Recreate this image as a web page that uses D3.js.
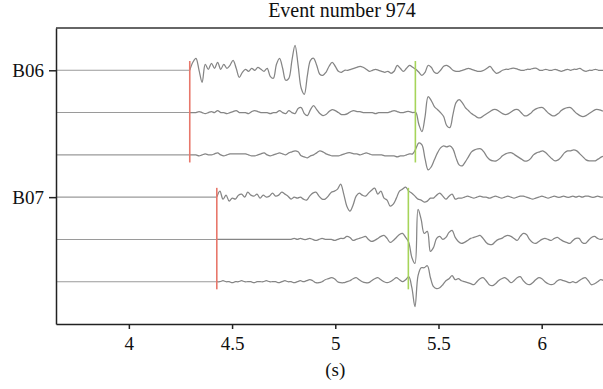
<!DOCTYPE html>
<html>
<head>
<meta charset="utf-8">
<script src="https://cdn.jsdelivr.net/npm/d3@7"></script>
<style>
  body { margin: 0; background: #fff; }
  text { font-family: "Liberation Serif", "Times New Roman", serif; fill: #111; }
</style>
</head>
<body>
<svg id="chart" width="603" height="389"></svg>
<script>
var stations = ["B06", "B07"];
var traceStation = [0, 0, 0, 1, 1, 1];
var onsets = [4.295, 4.295, 4.295, 4.426, 4.426, 4.426];
var pPicks = [4.295, 4.426];
var sPicks = [5.388, 5.354];
var dt = 0.015;
var xTicks = [4, 4.5, 5, 5.5, 6];

var trace1 = [0,8,12,0,-12,6,1,7,2,8,1,6,2,5,10,2,-7,-2,1,-1,2,0,3,1,-1,2,-6,-8,6,12,2,-10,-8,10,25,5,-18,-24,-5,10,12,5,-4,-5,-2,4,8,4,-1,-2,0,0,1,2,3,4,3,1,-1,0,1,0,-1,-2,-1,-3,-1,5,2,-1,2,5,3,1,-2,-5,-2,5,3,-2,-3,0,4,5,3,0,-1,-1,0,1,2,1,0,-1,-1,0,2,4,0,-3,-2,0,1,1,2,2,1,0,0,1,1,2,2,0,0,1,0,0,1,0,-1,0,1,0,1,1,2,0,-1,0,0,1,0,0,0];
var trace2 = [0,0,0,1,0,-1,0,1,0,2,0,0,-1,0,1,2,0,0,0,-1,1,2,1,0,0,0,-1,0,0,2,0,-1,2,0,-1,4,5,-1,-3,3,7,3,-1,-3,-2,1,3,2,0,-2,-2,-1,1,2,1,1,0,0,0,0,-1,0,0,0,0,1,2,1,0,0,1,1,0,0,-12,-19,-4,16,12,6,3,0,-4,-13,-15,-2,10,13,10,5,2,-1,-3,-5,-5,-3,-1,1,3,3,1,-1,-2,-1,1,3,3,0,-3,-3,-1,2,4,5,5,2,-1,-3,-3,-1,2,4,5,5,2,-1,-3,-4,-3,-1,1,3,3,2,1];
var trace3 = [0,0,0,-1,0,1,0,0,1,2,0,-1,0,1,1,1,1,1,1,0,-1,-1,0,1,2,0,-1,0,1,2,1,0,2,3,4,3,-1,-2,-3,-1,0,2,4,3,1,0,-1,-1,-1,0,1,2,2,1,1,0,1,2,1,0,0,0,0,-1,-1,-1,-1,-2,-1,-1,0,1,1,6,12,10,-4,-15,-12,-5,2,7,9,8,9,6,-3,-10,-11,-7,-2,3,5,6,6,3,-2,-5,-6,-6,-4,-1,1,2,2,0,-2,-4,-6,-6,-4,0,2,3,4,2,-1,-4,-6,-5,-2,2,4,4,5,4,1,-2,-5,-6,-6,-6,-4,-2,-1];
var trace4 = [0,6,-2,2,-4,-1,-2,2,3,0,5,2,1,3,-1,2,0,1,4,1,2,5,3,1,-2,0,-1,0,-2,-3,1,4,5,1,-2,-2,1,5,6,8,13,3,-9,-14,-8,1,4,2,1,4,7,9,3,6,-1,-3,-9,-7,-1,6,8,10,6,4,1,-2,-3,-5,-4,-1,-1,2,4,1,-2,1,3,-2,-1,-1,0,1,0,-1,0,1,0,0,-1,0,1,0,-1,0,1,0,-1,0,1,1,0,-1,-2,-1,0,1,0,-1,0,1,0,0,1,0,0,1,0,1,0,1,1,0,0,1,0,0];
var trace5 = [0,0,0,0,0,0,0,0,0,0,0,0,0,0,0,0,0,0,0,0,0,0,0,0,0,1,0,1,0,0,1,0,-1,0,1,0,0,0,-1,0,1,1,3,2,-1,0,1,2,3,0,-2,-1,1,3,4,1,-3,-1,2,5,6,2,-3,-18,-24,30,20,6,8,-12,-8,1,3,0,2,7,9,2,-2,-4,-3,-1,1,2,3,4,1,-3,-5,-5,-2,0,1,3,4,3,1,-1,3,6,5,0,-3,-4,-2,0,1,0,-1,1,2,0,-2,-3,-4,-1,1,1,-3,-4,-1,2,3,1,0,1];
var trace6 = [0,0,1,0,0,-1,0,0,1,0,0,0,-1,0,0,0,1,0,0,0,-1,0,1,0,0,-1,0,1,0,1,2,1,-1,-1,0,2,3,4,3,0,-1,-1,0,1,3,4,2,0,-1,-1,1,3,4,2,0,-1,0,2,4,2,0,2,5,-6,-25,6,14,14,16,4,-5,-7,-6,-3,1,3,6,2,3,1,0,-1,-2,-3,0,3,4,1,-3,-4,-2,1,3,4,2,-1,1,4,5,1,-2,-3,-1,2,4,3,0,-2,-3,-2,1,2,1,0,-1,0,-1,1,3,4,1,-3,-2,0,2,1];

var traces = [trace1, trace2, trace3, trace4, trace5, trace6];

var svg = d3.select("#chart");
var margin = {top: 28, right: 0, bottom: 65, left: 56};
var width = +svg.attr("width") - margin.left - margin.right;
var height = +svg.attr("height") - margin.top - margin.bottom;

var x = d3.scaleLinear().domain([3.647, 6.297]).range([0, width]);
var y = d3.scaleLinear().domain([-1, 6]).range([0, height]);
var amp = d3.scaleLinear().domain([-10, 10]).range([10, -10]);

var g = svg.append("g").attr("transform", "translate(" + margin.left + "," + margin.top + ")");

svg.append("defs").append("clipPath").attr("id", "clip")
  .append("rect").attr("width", width).attr("height", height);

var plot = g.append("g").attr("clip-path", "url(#clip)");

// flat pre-event lines
plot.selectAll(".pre")
  .data(traces)
  .enter().append("line")
    .attr("class", "pre")
    .attr("x1", x(x.domain()[0]))
    .attr("x2", (d, i) => x(onsets[i]))
    .attr("y1", (d, i) => y(i))
    .attr("y2", (d, i) => y(i))
    .attr("stroke", "#9a9a9a")
    .attr("stroke-width", 1.1);

plot.selectAll(".trace")
  .data(traces)
  .enter().append("path")
    .attr("class", "trace")
    .attr("fill", "none")
    .attr("stroke", "#858585")
    .attr("stroke-width", 1.25)
    .attr("stroke-linejoin", "round")
    .attr("d", (d, i) => d3.line()
      .curve(d3.curveCatmullRom.alpha(0.5))
      .x((v, j) => x(onsets[i] + j * dt))
      .y(v => y(i) + amp(v))(d));

// picks
var picks = [];
stations.forEach((s, k) => {
  var rows = traceStation.map((st, i) => st === k ? i : null).filter(i => i !== null);
  picks.push({t: pPicks[k], y0: d3.min(rows) - 0.22, y1: d3.max(rows) + 0.18, color: "#e8776b"});
  picks.push({t: sPicks[k], y0: d3.min(rows) - 0.22, y1: d3.max(rows) + 0.18, color: "#a6d45a"});
});

plot.selectAll(".pick")
  .data(picks)
  .enter().append("line")
    .attr("class", "pick")
    .attr("x1", d => x(d.t))
    .attr("x2", d => x(d.t))
    .attr("y1", d => y(d.y0))
    .attr("y2", d => y(d.y1))
    .attr("stroke", d => d.color)
    .attr("stroke-width", 1.6);

// frame
g.append("line")
  .attr("x1", 0).attr("x2", width)
  .attr("y1", 0).attr("y2", 0)
  .attr("stroke", "#333").attr("stroke-width", 1.5);

var xAxis = g.append("g")
  .attr("transform", "translate(0," + height + ")")
  .call(d3.axisBottom(x).tickValues(xTicks).tickFormat(d3.format("")).tickSize(5).tickSizeOuter(0).tickPadding(8));

var yAxis = g.append("g")
  .call(d3.axisLeft(y).tickValues(traceStation.map((s, i) => i).filter(i => i === 0 || i === 3))
    .tickFormat(i => stations[traceStation[i]]).tickSize(7).tickSizeOuter(0).tickPadding(5));

[xAxis, yAxis].forEach(a => {
  a.select(".domain").attr("stroke", "#222").attr("stroke-width", 1.5);
  a.selectAll(".tick line").attr("stroke", "#222").attr("stroke-width", 1.5);
  a.selectAll("text").attr("font-family", "Liberation Serif").attr("font-size", 19).attr("fill", "#111");
});

svg.append("text")
  .attr("x", 342).attr("y", 17)
  .attr("text-anchor", "middle")
  .attr("font-size", 20)
  .text("Event number 974");

svg.append("text")
  .attr("x", margin.left + x(5)).attr("y", 376)
  .attr("text-anchor", "middle")
  .attr("font-size", 19)
  .text("(s)");
</script>
</body>
</html>
